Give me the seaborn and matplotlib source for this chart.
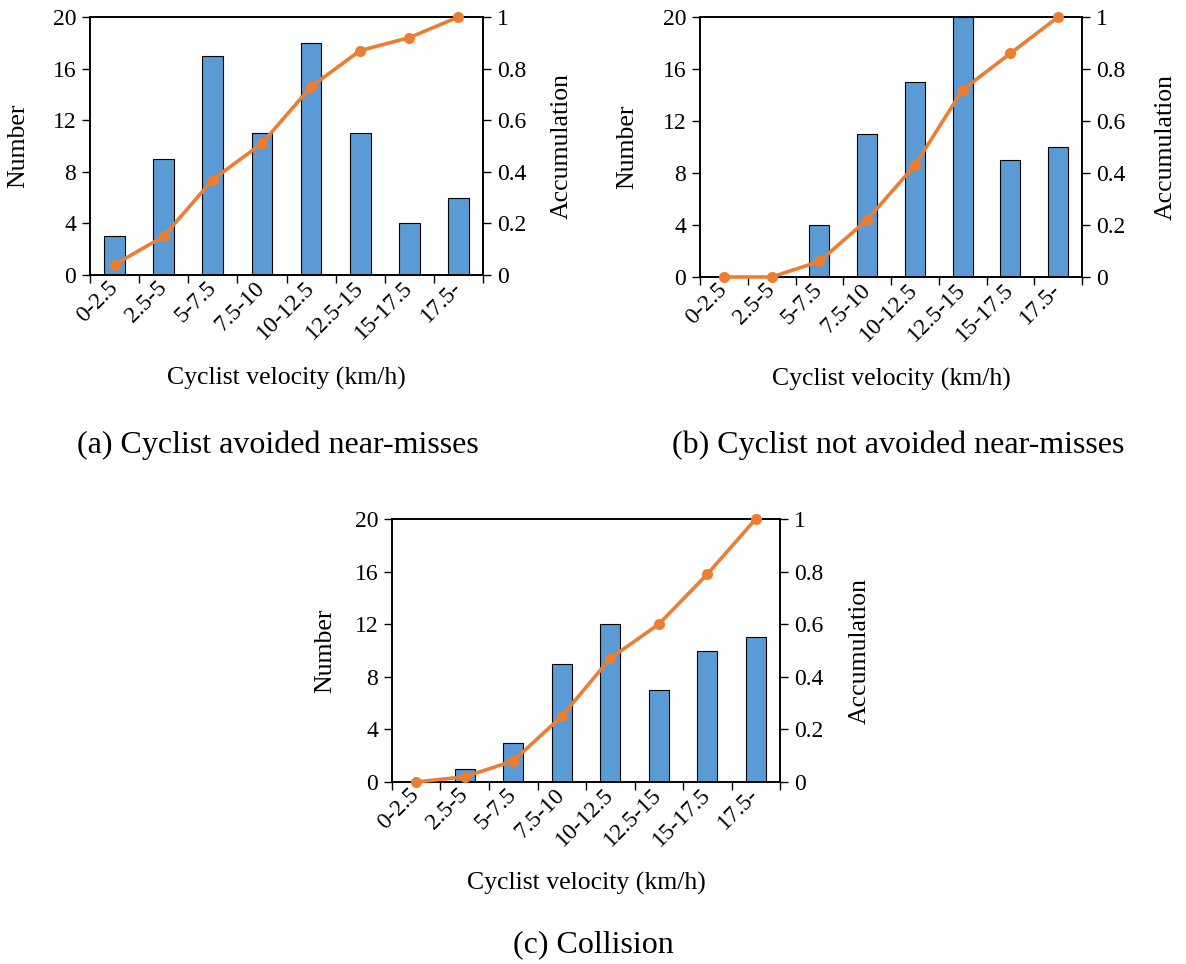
import matplotlib
matplotlib.use("Agg")
import matplotlib.pyplot as plt
import seaborn as sns
import pandas as pd
from matplotlib.ticker import FixedLocator, NullFormatter, FixedFormatter

categories = ["0-2.5", "2.5-5", "5-7.5", "7.5-10", "10-12.5", "12.5-15", "15-17.5", "17.5-"]

counts_a = [3, 9, 17, 11, 18, 11, 4, 6]
acc_a = [0.04, 0.15, 0.37, 0.51, 0.73, 0.87, 0.92, 1.0]

counts_b = [0, 0, 4, 11, 15, 20, 9, 10]
acc_b = [0.0, 0.0, 0.06, 0.22, 0.43, 0.72, 0.86, 1.0]

counts_c = [0, 1, 3, 9, 12, 7, 10, 11]
acc_c = [0.0, 0.02, 0.08, 0.25, 0.47, 0.60, 0.79, 1.0]

captions = ["(a) Cyclist avoided near-misses", "(b) Cyclist not avoided near-misses", "(c) Collision"]

left_ticks = [0, 4, 8, 12, 16, 20]
right_ticks = [0, 0.2, 0.4, 0.6, 0.8, 1.0]
right_labels = ["0", "0.2", "0.4", "0.6", "0.8", "1"]

sns.set_style("ticks")
plt.rcParams["font.family"] = ["Liberation Serif", "DejaVu Serif"]
plt.rcParams["text.color"] = "black"
plt.rcParams["axes.labelcolor"] = "black"
plt.rcParams["xtick.color"] = "black"
plt.rcParams["ytick.color"] = "black"

BAR = "#5B9BD5"
LINE = "#ED7D31"
W, H = 1186, 964
fig = plt.figure(figsize=(W / 100, H / 100), dpi=100)

def rect(l, t, r, b):
    return [l / W, 1 - b / H, (r - l) / W, (b - t) / H]

# label centres in pixels: (number_x, accumulation_x, xlabel_y), caption centre
panels = [
    (rect(90, 17, 483, 275), counts_a, acc_a, (18, 562, 378), (278, 445)),
    (rect(700, 17, 1082, 277), counts_b, acc_b, (627, 1166, 379), (898, 445)),
    (rect(392, 519, 780, 782), counts_c, acc_c, (325, 860, 883), (593, 945)),
]

FS = 17
LFS = 18.5
CFS = 23
for pos, counts, acc, (nx, accx, xly), (cx, cy) in panels:
    l, b, w, h = pos
    lpx, tpx = l * W, (1 - b - h) * H
    wpx, hpx = w * W, h * H
    ax = fig.add_axes(pos)
    df = pd.DataFrame({"cat": categories, "n": counts, "acc": acc})
    sns.barplot(data=df, x="cat", y="n", color=BAR, width=0.42, edgecolor="black",
                linewidth=0.8, saturation=1, ax=ax, zorder=2)
    ax.set_ylim(0, 20)
    ax.set_xlim(-0.5, 7.5)
    ax.set_yticks(left_ticks)
    ax.set_yticklabels([str(t) for t in left_ticks], fontsize=FS)
    ax.xaxis.set_major_locator(FixedLocator([i - 0.5 for i in range(9)]))
    ax.xaxis.set_major_formatter(NullFormatter())
    ax.xaxis.set_minor_locator(FixedLocator(list(range(8))))
    ax.xaxis.set_minor_formatter(FixedFormatter(categories))
    ax.tick_params(axis="x", which="major", length=6, width=1.0, direction="out")
    ax.tick_params(axis="x", which="minor", length=0, pad=7, labelsize=FS)
    for lab in ax.get_xticklabels(minor=True):
        lab.set_rotation(45)
        lab.set_ha("right")
        lab.set_va("center")
        lab.set_rotation_mode("anchor")
    ax.tick_params(axis="y", length=6, width=1.0, direction="out", labelsize=FS, pad=4)
    ax.set_xlabel("Cyclist velocity (km/h)", fontsize=LFS)
    ax.set_ylabel("Number", fontsize=LFS)
    ax.yaxis.label.set_va("center")
    ax.xaxis.label.set_va("center")
    ax.yaxis.set_label_coords((nx - lpx) / wpx, 0.5)
    ax.xaxis.set_label_coords(0.5, -(xly - (tpx + hpx)) / hpx)
    for s in ax.spines.values():
        s.set_visible(True)
        s.set_linewidth(1.2)
        s.set_color("black")

    ax2 = ax.twinx()
    sns.pointplot(data=df, x="cat", y="acc", color=LINE, markers="o", linestyles="-",
                  ax=ax2, markersize=6, linewidth=2.6, zorder=3)
    for ln in ax2.lines:
        ln.set_clip_on(False)
    for col in ax2.collections:
        col.set_clip_on(False)
    ax2.set_xlim(-0.5, 7.5)
    ax2.set_ylim(0, 1)
    ax2.set_yticks(right_ticks)
    ax2.set_yticklabels(right_labels, fontsize=FS)
    ax2.tick_params(axis="y", length=6, width=1.0, direction="out", labelsize=FS, pad=4)
    ax2.tick_params(axis="x", which="both", length=0, labelbottom=False)
    ax2.set_xlabel("")
    ax2.set_ylabel("Accumulation", fontsize=LFS)
    ax2.yaxis.label.set_va("center")
    ax2.yaxis.set_label_coords((accx - lpx) / wpx, 0.5)
    for s in ax2.spines.values():
        s.set_linewidth(1.2)
        s.set_color("black")

for (pos, counts, acc, coords, (cx, cy)), cap in zip(panels, captions):
    fig.text(cx / W, 1 - cy / H, cap, fontsize=CFS, ha="center", va="center")

fig.savefig("out.png", dpi=100)
